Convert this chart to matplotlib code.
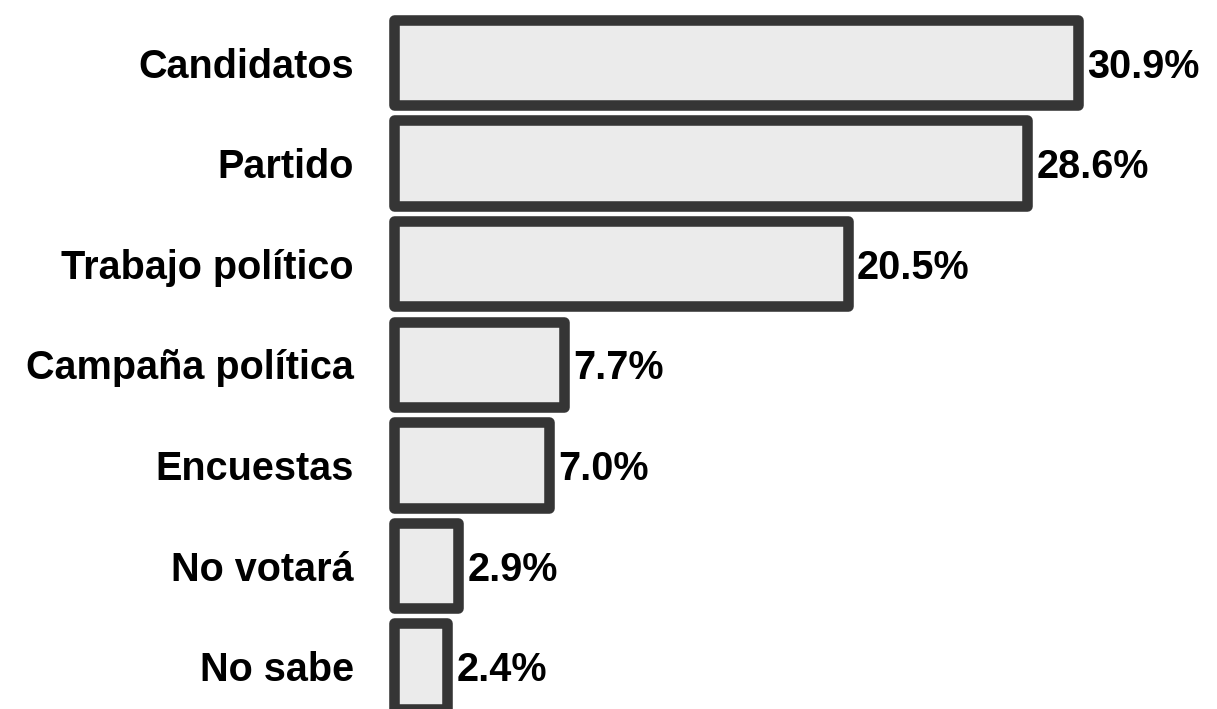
import matplotlib
matplotlib.use("Agg")
import matplotlib.pyplot as plt

categories = ["Candidatos", "Partido", "Trabajo político", "Campaña política",
              "Encuestas", "No votará", "No sabe"]
values = [30.9, 28.6, 20.5, 7.7, 7.0, 2.9, 2.4]
labels = ["30.9%", "28.6%", "20.5%", "7.7%", "7.0%", "2.9%", "2.4%"]

plt.rcParams['font.family'] = ['Liberation Sans', 'DejaVu Sans']

fig = plt.figure(figsize=(12.17, 7.09), dpi=100)
ax = fig.add_axes([0, 0, 1, 1])

pos = list(range(len(categories)))
bars = ax.barh(pos, values, height=0.85, color='#ebebeb', edgecolor='#353535',
               linewidth=7.6)
for b in bars:
    b.set_joinstyle('round')

# value labels right of the bars
for p, v, lab in zip(pos, values, labels):
    ax.annotate(lab, (v, p), xytext=(6.5, -3), textcoords='offset points',
                ha='left', va='center', fontsize=28.5, fontweight='bold', color='black')

# category labels left of the bars
for p, cat in zip(pos, categories):
    ax.annotate(cat, (0, p), xytext=(-29, -3), textcoords='offset points',
                ha='right', va='center', fontsize=28.5, fontweight='bold', color='black')

ax.set_xlim(-394 / 22.14, (1217 - 394) / 22.14)
ax.set_ylim((709 - 62.5) / 100.6, -62.5 / 100.6)
ax.axis('off')

fig.savefig("out.png", dpi=100)
